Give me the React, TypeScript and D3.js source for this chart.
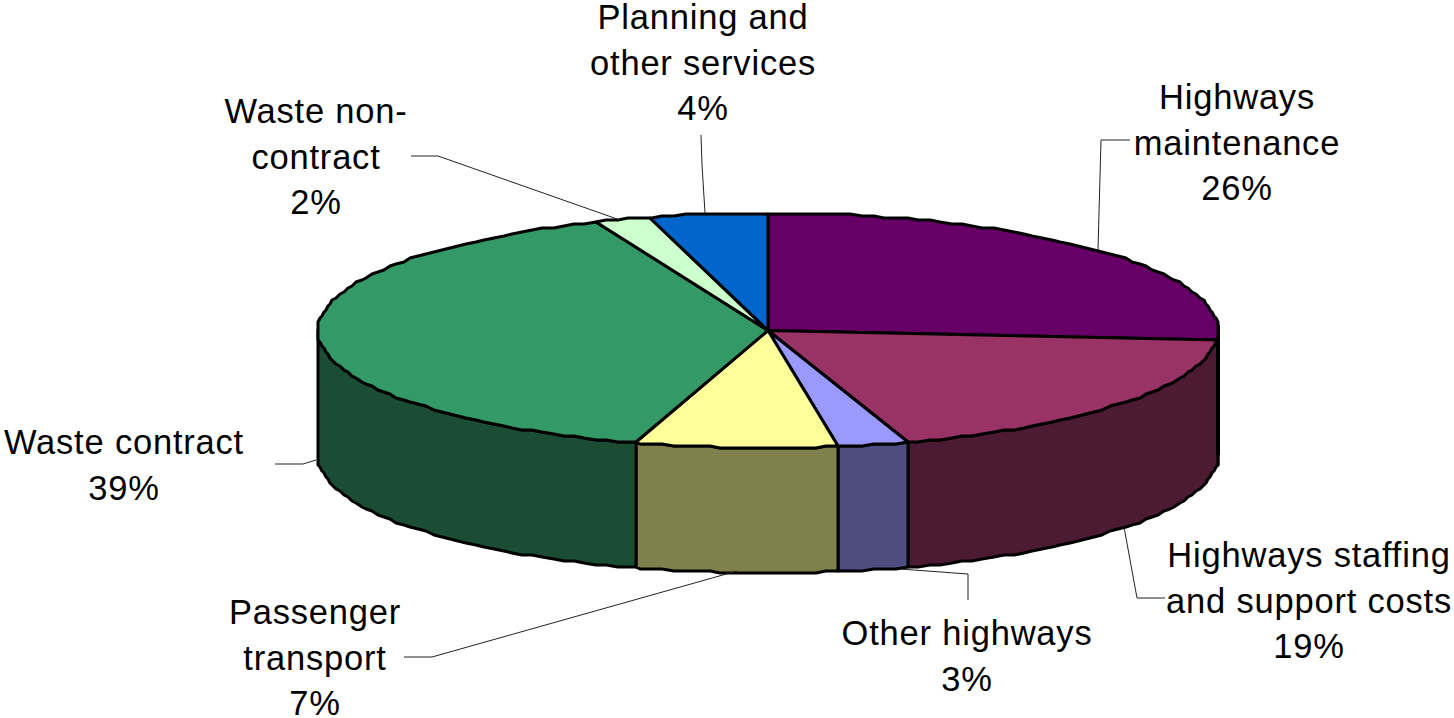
import { useRef, useEffect } from 'react';
import * as d3 from 'd3';

const categories = ['Highways maintenance', 'Highways staffing and support costs', 'Other highways', 'Passenger transport', 'Waste contract', 'Waste non-contract', 'Planning and other services'];
const values = [26.2, 18.8, 2.5, 7.2, 39.1, 2, 4.2];
const percentLabels = ['26%', '19%', '3%', '7%', '39%', '2%', '4%'];
const colors = ['#660066', '#993366', '#9999FF', '#FFFF99', '#339966', '#CCFFCC', '#0066CC'];

// wrapped label lines, one list per category
const labelLines = [
  ['Highways', 'maintenance'],
  ['Highways staffing', 'and support costs'],
  ['Other highways'],
  ['Passenger', 'transport'],
  ['Waste contract'],
  ['Waste non-', 'contract'],
  ['Planning and', 'other services'],
];
// label centre and first baseline
const labelAnchors = [[1237, 109], [1309, 567], [967, 645], [315, 624], [124, 454], [316, 123], [703, 29]];
// leader lines, label end first
const leaders = [
  [[1130, 140], [1101, 140], [1098, 250]],
  [[1165, 598], [1137, 598], [1124, 527]],
  [[968, 600], [968, 574], [900, 569]],
  [[404, 657], [432, 657], [737, 571]],
  [[275, 464], [303, 464], [316, 460]],
  [[411, 156], [438, 156], [620, 220]],
  [[701, 135], [702, 165], [705, 213]],
];

export default function App() {
  const ref = useRef<SVGSVGElement>(null);

  useEffect(() => {
    const svg = d3.select(ref.current);
    svg.selectAll('*').remove();

    const cx = 768, cy = 330.5, rx = 450.5, ry = 117.5, depth = 125;
    const grid = 2;
    const snap = (v: number) => Math.round(v / grid) * grid;
    const pt = (a: number): [number, number] => [snap(cx + rx * Math.sin(a)), snap(cy - ry * Math.cos(a))];

    // the rim is a coarse polyline, like the old vector export
    const rim = (a0: number, a1: number) => {
      const step = (1.5 * Math.PI) / 180;
      const out: [number, number][] = [pt(a0)];
      for (let k = Math.ceil(a0 / step + 0.01); k * step < a1; k++) out.push(pt(k * step));
      out.push(pt(a1));
      return out;
    };

    const arcs = d3.pie<number>().sort(null).value(d => d)(values);
    const line = d3.line();
    const wrap = (d: [number, number][]) => line(d) + 'Z';

    // front walls first
    arcs.forEach((a, i) => {
      const a0 = Math.max(a.startAngle, Math.PI / 2);
      const a1 = Math.min(a.endAngle, (3 * Math.PI) / 2);
      if (a1 <= a0) return;
      const top = rim(a0, a1);
      const bottom = top.map(([x, y]): [number, number] => [x, y + depth]).reverse();
      const c = d3.rgb(colors[i]);
      svg.append('path')
        .attr('d', wrap([...top, ...bottom]))
        .attr('fill', d3.rgb(c.r * 0.5, c.g * 0.5, c.b * 0.5).formatHex())
        .attr('stroke', '#000').attr('stroke-width', 3).attr('stroke-linejoin', 'round');
    });

    // heavier edge down the right side
    const [ex, ey] = pt(Math.PI / 2);
    svg.append('line')
      .attr('x1', ex).attr('x2', ex).attr('y1', ey - 5).attr('y2', ey + depth)
      .attr('stroke', '#000').attr('stroke-width', 4);

    // top faces
    arcs.forEach((a, i) => {
      svg.append('path')
        .attr('d', wrap([[cx, cy], ...rim(a.startAngle, a.endAngle)]))
        .attr('fill', colors[i])
        .attr('stroke', '#000').attr('stroke-width', 3).attr('stroke-linejoin', 'round');
    });

    // leaders
    leaders.forEach(l => {
      svg.append('path').attr('d', line(l as [number, number][]))
        .attr('fill', 'none').attr('stroke', '#222').attr('stroke-width', 1);
    });

    // labels
    const fs = 34.5, lh = 45.6;
    categories.forEach((name, i) => {
      const [x, y] = labelAnchors[i];
      const t = svg.append('text')
        .attr('text-anchor', 'middle').attr('fill', '#000')
        .style('font-family', '"Liberation Sans", Arial, sans-serif')
        .style('font-size', fs + 'px').style('letter-spacing', '0.8px');
      t.append('title').text(name);
      [...labelLines[i], percentLabels[i]].forEach((s, j) => {
        t.append('tspan').attr('x', x).attr('y', y + j * lh).text(s);
      });
    });
  }, []);

  return <svg ref={ref} width={1454} height={718} style={{ position: 'absolute', left: 0, top: 0, background: '#fff' }} />;
}
